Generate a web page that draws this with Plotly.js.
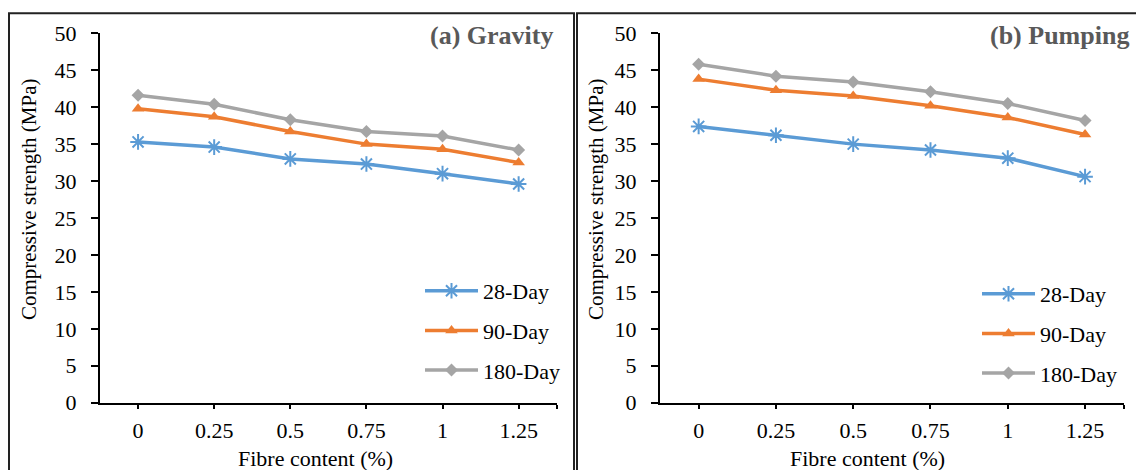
<!DOCTYPE html>
<html>
<head>
<meta charset="utf-8">
<script src="https://cdn.plot.ly/plotly-3.0.1.min.js"></script>
<style>
  html, body { margin: 0; padding: 0; background: #fff; }
  #chart { width: 1136px; height: 470px; }
</style>
</head>
<body>
<div id="chart"></div>
<script>
// Fibre content (%) on the x axis
const fibre = [0, 0.25, 0.5, 0.75, 1, 1.25];
const fibreLabels = ['0', '0.25', '0.5', '0.75', '1', '1.25'];

// Compressive strength (MPa), gravity placement
const gravity28 = [35.3, 34.6, 33.0, 32.3, 31.0, 29.6];
const gravity90 = [39.8, 38.7, 36.7, 35.0, 34.3, 32.5];
const gravity180 = [41.6, 40.4, 38.3, 36.7, 36.1, 34.2];

// Compressive strength (MPa), pumped placement
const pumping28 = [37.4, 36.2, 35.0, 34.2, 33.1, 30.6];
const pumping90 = [43.8, 42.3, 41.5, 40.2, 38.6, 36.3];
const pumping180 = [45.8, 44.2, 43.4, 42.1, 40.5, 38.2];

const seriesNames = ['28-Day', '90-Day', '180-Day'];

const W = 1136, H = 470;
const px = v => v / W;          // horizontal pixel -> paper
const py = v => 1 - v / H;      // vertical pixel -> paper

const FONT = '"Liberation Serif", "Times New Roman", serif';
const styles = [
  { color: '#5B9BD5', marker: { symbol: 'asterisk-open', size: 13, line: { color: '#5B9BD5', width: 2 } } },
  { color: '#ED7D31', marker: { symbol: 'triangle-up', size: 11, color: '#ED7D31' } },
  { color: '#A5A5A5', marker: { symbol: 'diamond', size: 10, color: '#A5A5A5' } }
];

function panelTraces(sets, xa, ya, legendId) {
  return sets.map((vals, i) => ({
    type: 'scatter',
    mode: 'lines+markers',
    x: fibre,
    y: vals,
    name: seriesNames[i],
    xaxis: xa,
    yaxis: ya,
    legend: legendId,
    legendgroup: legendId + i,
    line: { color: styles[i].color, width: 3.5 },
    marker: styles[i].marker,
    hoverinfo: 'x+y+name'
  }));
}

const data = [
  ...panelTraces([gravity28, gravity90, gravity180], 'x', 'y', 'legend'),
  ...panelTraces([pumping28, pumping90, pumping180], 'x2', 'y2', 'legend2')
];

const xBase = {
  range: [-0.125, 1.375],
  tickvals: [...fibre, 1.375],
  ticktext: [...fibreLabels, ''],
  ticks: 'outside', ticklen: 4, tickwidth: 2, tickcolor: '#000',
  showline: true, linecolor: '#000', linewidth: 2,
  showgrid: false, zeroline: false,
  ticklabelstandoff: 3,
  tickfont: { family: FONT, size: 22, color: '#000' },
  fixedrange: true
};
const yBase = {
  range: [0, 50], dtick: 5, tick0: 0,
  ticks: 'outside', ticklen: 7, tickwidth: 2, tickcolor: '#000',
  showline: true, linecolor: '#000', linewidth: 2,
  showgrid: false, zeroline: false,
  ticklabelstandoff: 10,
  tickfont: { family: FONT, size: 22, color: '#000' },
  domain: [py(402.7), py(33.3)],
  fixedrange: true
};

const legendBase = {
  font: { family: FONT, size: 22, color: '#000' },
  bgcolor: 'rgba(0,0,0,0)',
  tracegroupgap: 8,
  itemwidth: 53,
  xanchor: 'left', yanchor: 'top',
  xref: 'paper', yref: 'paper'
};

const layout = {
  width: W, height: H,
  margin: { l: 0, r: 0, t: 0, b: 0 },
  paper_bgcolor: '#fff', plot_bgcolor: 'rgba(0,0,0,0)',
  showlegend: true,
  xaxis: Object.assign({}, xBase, { domain: [px(100), px(556.7)], anchor: 'y' }),
  yaxis: Object.assign({}, yBase, { anchor: 'x' }),
  xaxis2: Object.assign({}, xBase, { domain: [px(660), px(1123.7)], anchor: 'y2' }),
  yaxis2: Object.assign({}, yBase, { anchor: 'x2' }),
  legend: Object.assign({}, legendBase, { x: px(420), y: py(270) }),
  legend2: Object.assign({}, legendBase, { x: px(977), y: py(273) }),
  annotations: [
    { text: '<b>(a) Gravity</b>', x: px(555), y: py(35), xanchor: 'right', yanchor: 'middle',
      xref: 'paper', yref: 'paper', showarrow: false,
      font: { family: FONT, size: 26, color: '#595959' } },
    { text: '<b>(b) Pumping</b>', x: px(1131), y: py(35), xanchor: 'right', yanchor: 'middle',
      xref: 'paper', yref: 'paper', showarrow: false,
      font: { family: FONT, size: 26, color: '#595959' } },
    { text: 'Compressive strength (MPa)', textangle: -90, x: px(29), y: py(200),
      xanchor: 'center', yanchor: 'middle', xref: 'paper', yref: 'paper', showarrow: false,
      font: { family: FONT, size: 21, color: '#000' } },
    { text: 'Compressive strength (MPa)', textangle: -90, x: px(596), y: py(200),
      xanchor: 'center', yanchor: 'middle', xref: 'paper', yref: 'paper', showarrow: false,
      font: { family: FONT, size: 21, color: '#000' } },
    { text: 'Fibre content (%)', x: px(315), y: py(458), xanchor: 'center', yanchor: 'middle',
      xref: 'paper', yref: 'paper', showarrow: false,
      font: { family: FONT, size: 22, color: '#000' } },
    { text: 'Fibre content (%)', x: px(867), y: py(458), xanchor: 'center', yanchor: 'middle',
      xref: 'paper', yref: 'paper', showarrow: false,
      font: { family: FONT, size: 22, color: '#000' } }
  ],
  shapes: [
    // frames around the two panels
    { type: 'rect', xref: 'paper', yref: 'paper', x0: px(9), x1: px(574), y0: py(480), y1: py(13.3),
      line: { color: '#222', width: 2 }, fillcolor: 'rgba(0,0,0,0)', layer: 'below' },
    { type: 'rect', xref: 'paper', yref: 'paper', x0: px(577), x1: px(1150), y0: py(480), y1: py(13.3),
      line: { color: '#222', width: 2 }, fillcolor: 'rgba(0,0,0,0)', layer: 'below' }
  ]
};

Plotly.newPlot('chart', data, layout, { displayModeBar: false, staticPlot: true });
</script>
</body>
</html>
